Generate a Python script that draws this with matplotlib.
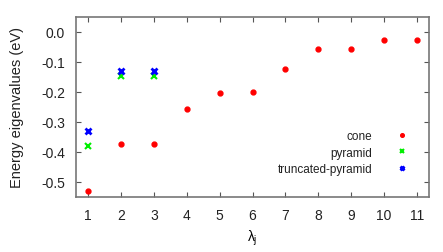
import matplotlib
matplotlib.use("Agg")
import matplotlib.pyplot as plt

plt.rcParams['font.family'] = ['Liberation Sans', 'DejaVu Sans']
plt.rcParams['axes.unicode_minus'] = False
plt.rcParams['mathtext.fontset'] = 'custom'
plt.rcParams['mathtext.it'] = 'Liberation Sans'
plt.rcParams['mathtext.rm'] = 'Liberation Sans'

cone_x = [1, 2, 3, 4, 5, 6, 7, 8, 9, 10, 11]
cone_y = [-0.531, -0.373, -0.373, -0.257, -0.204, -0.201, -0.122, -0.056, -0.056, -0.026, -0.026]
pyramid_x = [1, 2, 3]
pyramid_y = [-0.379, -0.147, -0.147]
trunc_x = [1, 2, 3]
trunc_y = [-0.329, -0.129, -0.129]
xticks = list(range(1, 12))
yticks = [0.0, -0.1, -0.2, -0.3, -0.4, -0.5]

fig = plt.figure(figsize=(4.43, 2.53), dpi=100)
ax = fig.add_axes([76 / 443, 55 / 253, 353 / 443, 180 / 253])

ax.plot(cone_x, cone_y, 'o', color='red', ms=3.5, ls='none', label='cone')
ax.plot(pyramid_x, pyramid_y, 'x', color='#00ee00', ms=4, mew=1.5, ls='none', label='pyramid')
ax.plot(trunc_x, trunc_y, 'x', color='blue', ms=4, mew=2, ls='none', label='truncated-pyramid')

ax.set_xlim(0.635, 11.365)
ax.set_ylim(-0.55, 0.05)
ax.set_xticks(xticks)
ax.set_yticks(yticks)
ax.set_yticklabels(['%.1f' % v for v in yticks])
ax.tick_params(direction='in', top=True, right=True, labelsize=10, length=3.5,
               color='#555555', labelcolor='#222222', pad=8)
for s in ax.spines.values():
    s.set_color('#777777')
    s.set_linewidth(1.2)

ax.set_xlabel(r'$\lambda_j$', fontsize=10, labelpad=4)
ax.set_ylabel('Energy eigenvalues (eV)', fontsize=10.5, color='#222222', labelpad=12)

ax.legend(loc='lower right', markerfirst=False, frameon=False, fontsize=8.5,
          handletextpad=1.8, labelspacing=0.35, markerscale=0.75, handlelength=1.5,
          bbox_to_anchor=(0.98, 0.065), labelcolor='#222222')

fig.savefig('out.png', dpi=100)
